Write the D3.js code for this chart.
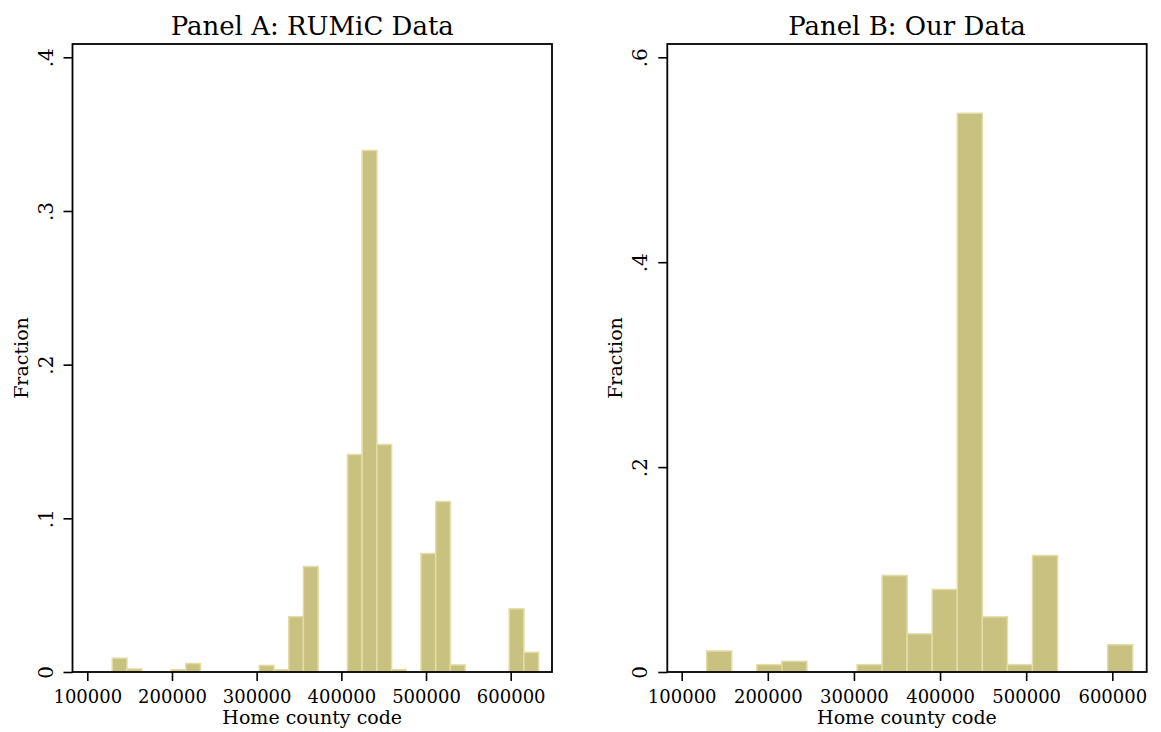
<!DOCTYPE html>
<html lang="en">
<head>
<meta charset="utf-8">
<title>Home county code histograms</title>
<style>
  body { margin: 0; background: #fff; }
  svg text { font-family: "DejaVu Serif", serif; fill: #000; }
  .tick line { stroke: #000; stroke-width: 1.6px; }
  .bar { fill: #c9c17f; stroke: #e2dca6; stroke-width: 1.5px; }
  .frame { fill: none; stroke: #000; stroke-width: 1.8px; }
</style>
</head>
<body>
<svg width="1161" height="732"></svg>
<script src="https://cdn.jsdelivr.net/npm/d3@7"></script>
<script>
// ---- data ----
// Panel A: RUMiC data, 29 bins
var binStartA = 129500;
var binWidthA = 17360;
var fractionA = [0.009, 0.002, 0, 0, 0.0015, 0.0055, 0, 0, 0, 0,
                 0.0043, 0.0015, 0.036, 0.0686, 0, 0, 0.1415, 0.3394, 0.148, 0.0016,
                 0, 0.0771, 0.1109, 0.0046, 0, 0, 0, 0.0411, 0.0128];

// Panel B: our data, 17 bins
var binStartB = 129000;
var binWidthB = 29100;
var fractionB = [0.0205, 0, 0.0072, 0.0104, 0, 0, 0.0072, 0.0942, 0.0372,
                 0.0806, 0.5454, 0.0538, 0.0072, 0.1137, 0, 0, 0.0266];

var xTicks = [100000, 200000, 300000, 400000, 500000, 600000];
var yTicksA = [0, 0.1, 0.2, 0.3, 0.4];
var yTicksB = [0, 0.2, 0.4, 0.6];
var yLabelsA = ["0", ".1", ".2", ".3", ".4"];
var yLabelsB = ["0", ".2", ".4", ".6"];

var svg = d3.select("svg");
var plotTop = 44, plotBottom = 672;

function drawPanel(p) {
  var x = d3.scaleLinear().domain([100000, 600000]).range(p.xRange);
  var y = d3.scaleLinear().domain([0, p.yTop]).range([plotBottom, 57.3]);

  var bins = p.values.map(function(v, i) {
    return { x0: p.start + i * p.width, x1: p.start + (i + 1) * p.width, v: v };
  }).filter(function(d) { return d.v > 0; });

  svg.append("g").selectAll("rect")
    .data(bins)
    .enter().append("rect")
      .attr("class", "bar")
      .attr("x", function(d) { return x(d.x0); })
      .attr("width", function(d) { return x(d.x1) - x(d.x0); })
      .attr("y", function(d) { return y(d.v); })
      .attr("height", function(d) { return y(0) - y(d.v); });

  // plot region box
  svg.append("rect")
    .attr("class", "frame")
    .attr("x", p.left)
    .attr("y", plotTop)
    .attr("width", p.right - p.left)
    .attr("height", plotBottom - plotTop);

  // x axis
  var gx = svg.append("g")
    .attr("transform", "translate(0," + plotBottom + ")")
    .call(d3.axisBottom(x).tickValues(xTicks).tickSize(9).tickFormat(d3.format("d")));
  gx.select(".domain").remove();
  gx.selectAll("text")
    .attr("y", 31).attr("dy", 0)
    .style("font-size", "18px");

  // y axis with rotated labels
  var gy = svg.append("g")
    .attr("transform", "translate(" + p.left + ",0)")
    .call(d3.axisLeft(y).tickValues(p.yTicks).tickSize(9)
      .tickFormat(function(d, i) { return p.yLabels[i]; }));
  gy.select(".domain").remove();
  gy.selectAll("text")
    .attr("transform", "rotate(-90)")
    .attr("x", 0).attr("y", -20).attr("dy", 0)
    .attr("text-anchor", "middle")
    .style("font-size", "20px");

  var cx = (p.left + p.right) / 2;

  svg.append("text")
    .attr("x", cx).attr("y", 35)
    .attr("text-anchor", "middle")
    .style("font-size", "26px")
    .text(p.title);

  svg.append("text")
    .attr("x", cx).attr("y", 724)
    .attr("text-anchor", "middle")
    .style("font-size", "19px")
    .text("Home county code");

  svg.append("text")
    .attr("transform", "translate(" + (p.left - 45) + "," + ((plotTop + plotBottom) / 2) + ") rotate(-90)")
    .attr("text-anchor", "middle")
    .style("font-size", "19px")
    .text("Fraction");
}

drawPanel({
  title: "Panel A: RUMiC Data",
  values: fractionA, start: binStartA, width: binWidthA,
  left: 72.5, right: 552, xRange: [87.3, 510.7],
  yTop: 0.4, yTicks: yTicksA, yLabels: yLabelsA
});

drawPanel({
  title: "Panel B: Our Data",
  values: fractionB, start: binStartB, width: binWidthB,
  left: 667.3, right: 1146.7, xRange: [681.7, 1112.3],
  yTop: 0.6, yTicks: yTicksB, yLabels: yLabelsB
});
</script>
</body>
</html>
